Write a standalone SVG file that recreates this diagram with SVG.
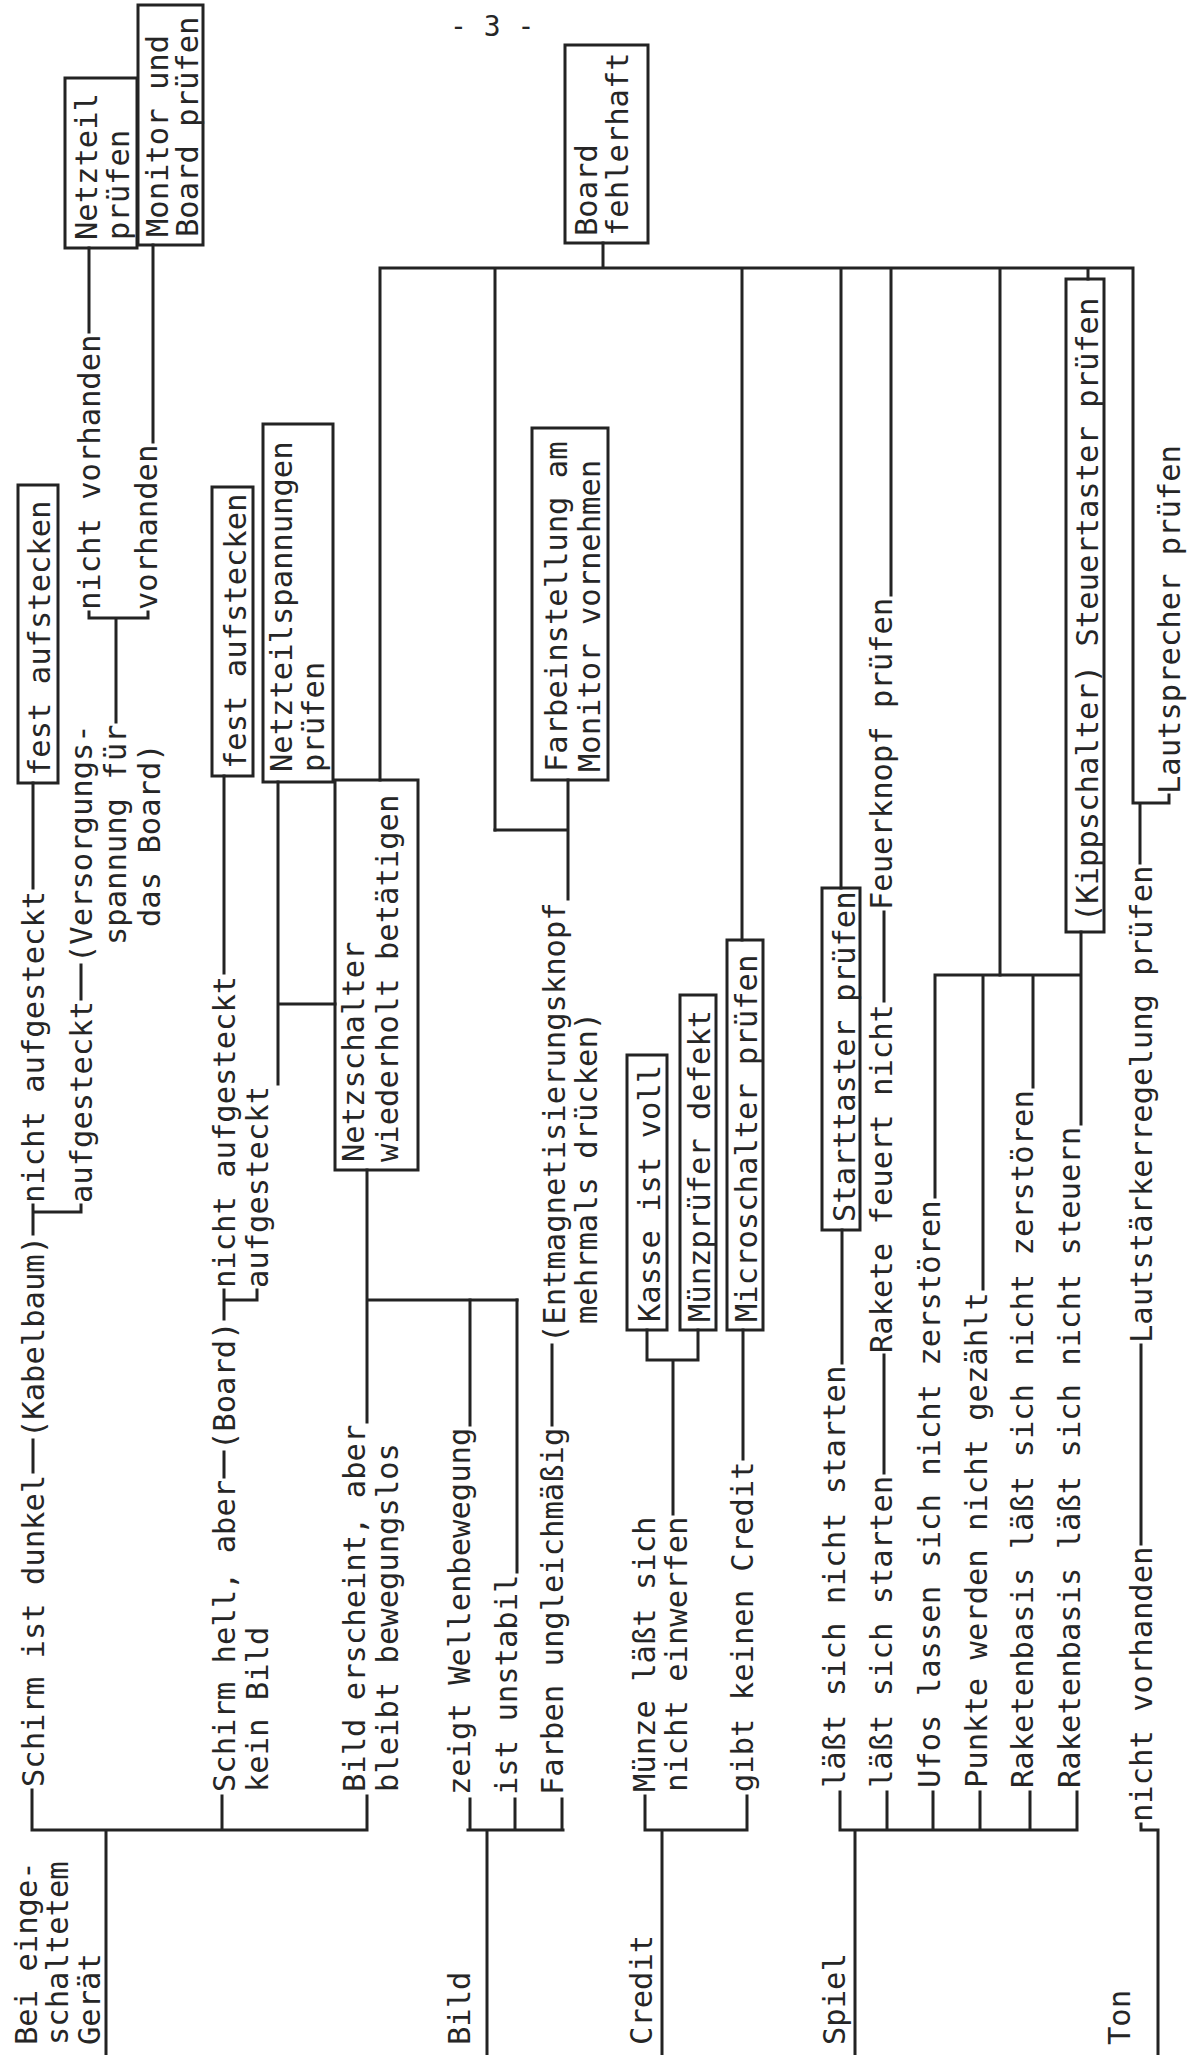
<svg xmlns="http://www.w3.org/2000/svg" width="1187" height="2055" viewBox="0 0 1187 2055">
<style>
text{font-family:"DejaVu Sans Mono","Liberation Mono",monospace;font-size:30.5px;fill:#262626}
.c path{fill:none;stroke:#232323;stroke-width:3;stroke-linecap:square}
.b{fill:none;stroke:#232323;stroke-width:3}
</style>
<rect width="1187" height="2055" fill="#ffffff"/>
<text id="pagenum" x="450" y="36" style="font-size:28px">- 3 -</text>

<g class="c" id="connectors">
<path d="M106,2055V1830M32,1830H367M32,1830V1790M222,1830V1796M367,1830V1796"/>
<path d="M33,1472V1440M33,1234V1205M33,1212H81V1205M33,888V783"/>
<path d="M81,999V965M116,722V618M89,612V618H148V612M89,332V248M153,442V245"/>
<path d="M224,1477V1452M224,1319V1290M224,1300H257V1290M224,973V776"/>
<path d="M278,1084V782M278,1004H335"/>
<path d="M367,1422V1170M367,1300H517"/>
<path d="M487,2055V1830M468,1830H563M470,1830V1799M515,1830V1799M562,1830V1799"/>
<path d="M470,1425V1300M517,1572V1300M552,1425V1345M568,899V780M568,830H495"/>
<path d="M380,780V268H1133M495,830V268M603,268V243M742,940V268M841,888V268M891,595V268M1000,975V268M1088,268V279M1133,268V803H1169V795M1140,863V803"/>
<path d="M662,2055V1830M645,1830H747M645,1830V1796M747,1830V1796M673,1514V1360M647,1330V1360H698V1330M743,1459V1330"/>
<path d="M855,2055V1830M840,1830H1077M840,1830V1792M887,1830V1792M933,1830V1792M980,1830V1792M1030,1830V1792M1077,1830V1792"/>
<path d="M842,1363V1230M884,1473V1355M884,1001V912M935,1197V975M983,1289V975M1033,1087V975M1081,1124V932M935,975H1081"/>
<path d="M1158,2055V1830H1141V1824M1141,1544V1345"/>
</g>

<g id="n-root-geraet">
<text transform="translate(37 2045) rotate(-90)">Bei einge-</text>
<text transform="translate(68 2045) rotate(-90)">schaltetem</text>
<text transform="translate(100 2045) rotate(-90)">Gerät</text>
</g>
<g id="n-schirm-dunkel"><text transform="translate(44 1787) rotate(-90)">Schirm ist dunkel</text></g>
<g id="n-kabelbaum"><text transform="translate(44 1438) rotate(-90)">(Kabelbaum)</text></g>
<g id="n-kabel-nicht"><text transform="translate(44 1203) rotate(-90)">nicht aufgesteckt</text></g>
<g id="n-fest1"><rect class="b" x="18" y="485" width="40" height="298"/><text transform="translate(50 776) rotate(-90)">fest aufstecken</text></g>
<g id="n-kabel-auf"><text transform="translate(92 1203) rotate(-90)">aufgesteckt</text></g>
<g id="n-versorgung">
<text transform="translate(92 963) rotate(-90)">(Versorgungs-</text>
<text transform="translate(126 945) rotate(-90)">spannung für</text>
<text transform="translate(160 927) rotate(-90)">das Board)</text>
</g>
<g id="n-nicht-vorh"><text transform="translate(100 610) rotate(-90)">nicht vorhanden</text></g>
<g id="n-vorh"><text transform="translate(157 610) rotate(-90)">vorhanden</text></g>
<g id="n-netzteil"><rect class="b" x="65" y="78" width="72" height="170"/>
<text transform="translate(97 240) rotate(-90)">Netzteil</text>
<text transform="translate(129 240) rotate(-90)">prüfen</text></g>
<g id="n-monitor"><rect class="b" x="138" y="5" width="65" height="240"/>
<text transform="translate(168 237) rotate(-90)">Monitor und</text>
<text transform="translate(198 237) rotate(-90)">Board prüfen</text></g>

<g id="n-schirm-hell">
<text transform="translate(235 1792) rotate(-90)">Schirm hell, aber</text>
<text transform="translate(268 1792) rotate(-90)">kein Bild</text>
</g>
<g id="n-board-paren"><text transform="translate(235 1450) rotate(-90)">(Board)</text></g>
<g id="n-board-nicht"><text transform="translate(235 1288) rotate(-90)">nicht aufgesteckt</text></g>
<g id="n-fest2"><rect class="b" x="212" y="487" width="41" height="289"/><text transform="translate(246 769) rotate(-90)">fest aufstecken</text></g>
<g id="n-board-auf"><text transform="translate(268 1288) rotate(-90)">aufgesteckt</text></g>
<g id="n-netzteilsp"><rect class="b" x="263" y="424" width="70" height="358"/>
<text transform="translate(292 772) rotate(-90)">Netzteilspannungen</text>
<text transform="translate(324 772) rotate(-90)">prüfen</text></g>
<g id="n-netzschalter"><rect class="b" x="335" y="780" width="83" height="390"/>
<text transform="translate(364 1162) rotate(-90)">Netzschalter</text>
<text transform="translate(398 1162) rotate(-90)">wiederholt betätigen</text></g>
<g id="n-bild-erscheint">
<text transform="translate(365 1792) rotate(-90)">Bild erscheint, aber</text>
<text transform="translate(398 1792) rotate(-90)">bleibt bewegungslos</text>
</g>

<g id="n-root-bild"><text transform="translate(470 2045) rotate(-90)">Bild</text></g>
<g id="n-wellen"><text transform="translate(470 1795) rotate(-90)">zeigt Wellenbewegung</text></g>
<g id="n-unstabil"><text transform="translate(517 1795) rotate(-90)">ist unstabil</text></g>
<g id="n-farben"><text transform="translate(563 1795) rotate(-90)">Farben ungleichmäßig</text></g>
<g id="n-entmag">
<text transform="translate(565 1343) rotate(-90)">(Entmagnetisierungsknopf</text>
<text transform="translate(597 1324) rotate(-90)">mehrmals drücken)</text>
</g>
<g id="n-farbeinst"><rect class="b" x="532" y="428" width="76" height="352"/>
<text transform="translate(567 772) rotate(-90)">Farbeinstellung am</text>
<text transform="translate(600 772) rotate(-90)">Monitor vornehmen</text></g>
<g id="n-board-fehler"><rect class="b" x="565" y="45" width="83" height="198"/>
<text transform="translate(597 236) rotate(-90)">Board</text>
<text transform="translate(628 236) rotate(-90)">fehlerhaft</text></g>

<g id="n-root-credit"><text transform="translate(652 2045) rotate(-90)">Credit</text></g>
<g id="n-muenze">
<text transform="translate(655 1792) rotate(-90)">Münze läßt sich</text>
<text transform="translate(687 1792) rotate(-90)">nicht einwerfen</text>
</g>
<g id="n-kasse"><rect class="b" x="627" y="1055" width="40" height="275"/><text transform="translate(660 1322) rotate(-90)">Kasse ist voll</text></g>
<g id="n-muenzpr"><rect class="b" x="680" y="995" width="36" height="335"/><text transform="translate(710 1322) rotate(-90)">Münzprüfer defekt</text></g>
<g id="n-gibt"><text transform="translate(753 1792) rotate(-90)">gibt keinen Credit</text></g>
<g id="n-micro"><rect class="b" x="727" y="940" width="36" height="390"/><text transform="translate(757 1322) rotate(-90)">Microschalter prüfen</text></g>

<g id="n-root-spiel"><text transform="translate(845 2045) rotate(-90)">Spiel</text></g>
<g id="n-sp1"><text transform="translate(845 1788) rotate(-90)">läßt sich nicht starten</text></g>
<g id="n-starttaster"><rect class="b" x="822" y="888" width="38" height="342"/><text transform="translate(855 1222) rotate(-90)">Starttaster prüfen</text></g>
<g id="n-sp2"><text transform="translate(892 1788) rotate(-90)">läßt sich starten</text></g>
<g id="n-rakete"><text transform="translate(892 1353) rotate(-90)">Rakete feuert nicht</text></g>
<g id="n-feuerknopf"><text transform="translate(892 910) rotate(-90)">Feuerknopf prüfen</text></g>
<g id="n-sp3"><text transform="translate(940 1788) rotate(-90)">Ufos lassen sich nicht zerstören</text></g>
<g id="n-sp4"><text transform="translate(987 1788) rotate(-90)">Punkte werden nicht gezählt</text></g>
<g id="n-sp5"><text transform="translate(1033 1788) rotate(-90)">Raketenbasis läßt sich nicht zerstören</text></g>
<g id="n-sp6"><text transform="translate(1080 1788) rotate(-90)">Raketenbasis läßt sich nicht steuern</text></g>
<g id="n-kipp"><rect class="b" x="1066" y="279" width="38" height="653"/><text transform="translate(1098 922) rotate(-90)">(Kippschalter) Steuertaster prüfen</text></g>

<g id="n-root-ton"><text transform="translate(1130 2045) rotate(-90)">Ton</text></g>
<g id="n-ton-nicht"><text transform="translate(1152 1822) rotate(-90)">nicht vorhanden</text></g>
<g id="n-lautst"><text transform="translate(1152 1343) rotate(-90)">Lautstärkerregelung prüfen</text></g>
<g id="n-lautspr"><text transform="translate(1180 794) rotate(-90)">Lautsprecher prüfen</text></g>
</svg>
